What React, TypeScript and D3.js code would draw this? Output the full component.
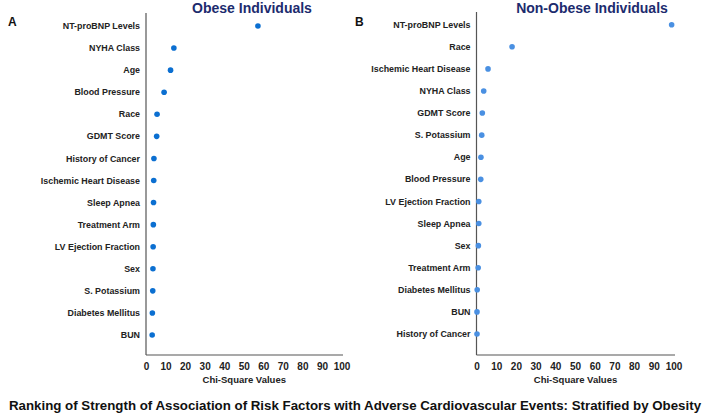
import * as d3 from "d3";

const obeseFactors = [
  "NT-proBNP Levels",
  "NYHA Class",
  "Age",
  "Blood Pressure",
  "Race",
  "GDMT Score",
  "History of Cancer",
  "Ischemic Heart Disease",
  "Sleep Apnea",
  "Treatment Arm",
  "LV Ejection Fraction",
  "Sex",
  "S. Potassium",
  "Diabetes Mellitus",
  "BUN",
];
const obeseValues = [57, 14, 12.3, 9, 5.4, 5.2, 3.8, 3.7, 3.6, 3.5, 3.4, 3.3, 3.2, 3.0, 2.9];

const nonObeseFactors = [
  "NT-proBNP Levels",
  "Race",
  "Ischemic Heart Disease",
  "NYHA Class",
  "GDMT Score",
  "S. Potassium",
  "Age",
  "Blood Pressure",
  "LV Ejection Fraction",
  "Sleep Apnea",
  "Sex",
  "Treatment Arm",
  "Diabetes Mellitus",
  "BUN",
  "History of Cancer",
];
const nonObeseValues = [98.8, 17.8, 5.6, 3.4, 2.7, 2.4, 2.0, 1.9, 0.9, 0.9, 0.7, 0.6, 0.1, 0, 0];

const xTicks = [0, 10, 20, 30, 40, 50, 60, 70, 80, 90, 100];

const FONT = "'Liberation Sans', Arial, sans-serif";

type PanelProps = {
  letter: string;
  title: string;
  titleX: number;
  factors: string[];
  values: number[];
  color: string;
  x0: number;
  x1: number;
  yTop: number;
  yBottom: number;
  axisTop: number;
  axisBottom: number;
  letterX: number;
};

const Panel = (p: PanelProps) => {
  const x = d3.scaleLinear().domain([0, 100]).range([p.x0, p.x1]);
  const y = d3.scalePoint<string>().domain(p.factors).range([p.yTop, p.yBottom]);
  const axisX = p.x0 - 0.5;
  return (
    <g fontFamily={FONT}>
      <text x={p.letterX} y={26} fontSize={12} fontWeight="bold" fill="#111">
        {p.letter}
      </text>
      <text
        x={p.titleX}
        y={12.5}
        fontSize={14}
        fontWeight="bold"
        fill="#1c2b6e"
        textAnchor="middle"
      >
        {p.title}
      </text>
      <line x1={axisX} x2={axisX} y1={p.axisTop} y2={p.axisBottom} stroke="#555" strokeWidth={1.2} />
      <line x1={axisX} x2={p.x1 + 1} y1={p.axisBottom} y2={p.axisBottom} stroke="#555" strokeWidth={1.2} />
      {p.factors.map((f) => (
        <text
          key={f}
          x={axisX - 6}
          y={y(f)!}
          dy="0.35em"
          fontSize={8.9}
          fontWeight="bold"
          fill="#222"
          textAnchor="end"
        >
          {f}
        </text>
      ))}
      {p.factors.map((f, i) => (
        <circle key={f} cx={x(p.values[i])} cy={y(f)!} r={2.8} fill={p.color} />
      ))}
      {xTicks.map((t) => (
        <text
          key={t}
          x={x(t)}
          y={p.axisBottom + 11}
          dy="0.35em"
          fontSize={10}
          fontWeight="bold"
          fill="#222"
          textAnchor="middle"
        >
          {t}
        </text>
      ))}
      <text
        x={(p.x0 + p.x1) / 2}
        y={p.axisBottom + 25}
        dy="0.35em"
        fontSize={9.5}
        fontWeight="bold"
        fill="#222"
        textAnchor="middle"
      >
        Chi-Square Values
      </text>
    </g>
  );
};

export default function App() {
  return (
    <svg
      width={709}
      height={415}
      style={{ position: "absolute", left: 0, top: 0, background: "#fff" }}
    >
      <Panel
        letter="A"
        title="Obese Individuals"
        titleX={252}
        factors={obeseFactors}
        values={obeseValues}
        color="#0b6fd1"
        x0={146.5}
        x1={342}
        yTop={26}
        yBottom={335}
        axisTop={13}
        axisBottom={355}
        letterX={8}
      />
      <Panel
        letter="B"
        title="Non-Obese Individuals"
        titleX={592}
        factors={nonObeseFactors}
        values={nonObeseValues}
        color="#4a90e2"
        x0={477}
        x1={674}
        yTop={24.7}
        yBottom={334}
        axisTop={12}
        axisBottom={355}
        letterX={355}
      />
      <text
        x={355}
        y={405}
        dy="0.35em"
        fontFamily={FONT}
        fontSize={13.3}
        fontWeight="bold"
        fill="#111"
        textAnchor="middle"
      >
        Ranking of Strength of Association of Risk Factors with Adverse Cardiovascular Events: Stratified by Obesity
      </text>
    </svg>
  );
}
